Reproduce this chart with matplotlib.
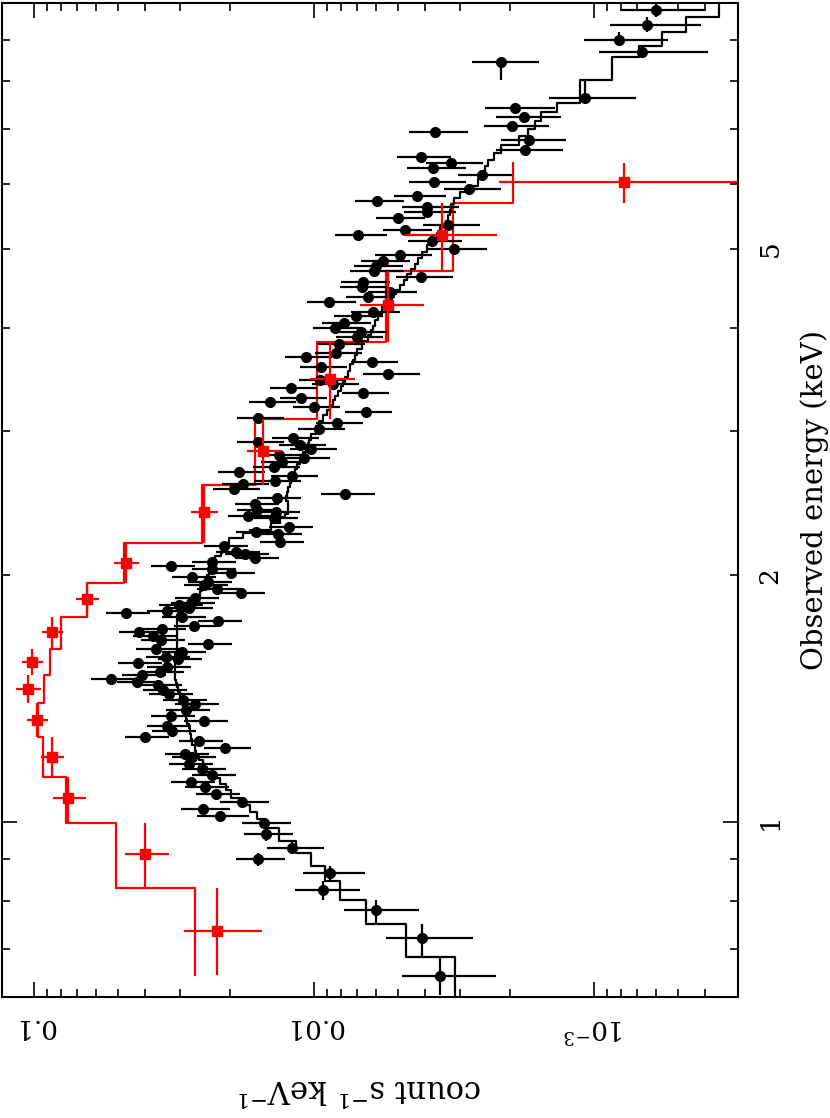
import numpy as np
import matplotlib
matplotlib.use("Agg")
import matplotlib.pyplot as plt
from matplotlib.ticker import FixedLocator, FixedFormatter, LogLocator, NullFormatter

plt.rcParams['font.family'] = ['DejaVu Serif']
plt.rcParams['mathtext.fontset'] = 'dejavuserif'

# black spectrum: energy (keV), rate (count/s/keV), relative error, model
black_energy = [9.778, 9.375, 8.988, 8.690, 8.449, 7.637, 7.425, 7.241, 7.060, 6.942,
                6.787, 6.599, 6.472, 6.363, 6.274, 6.152, 6.032, 5.915, 5.800, 5.719,
                5.623, 5.545, 5.452, 5.347, 5.271, 5.198, 5.111, 4.998, 4.915, 4.832,
                4.764, 4.698, 4.620, 4.555, 4.492, 4.429, 4.368, 4.307, 4.187, 4.140,
                4.059, 4.003, 3.959, 3.903, 3.827, 3.731, 3.690, 3.639, 3.588, 3.518,
                3.459, 3.420, 3.382, 3.335, 3.288, 3.252, 3.207, 3.162, 3.109, 3.066,
                3.014, 2.939, 2.907, 2.882, 2.850, 2.802, 2.778, 2.748, 2.710, 2.672,
                2.642, 2.605, 2.583, 2.547, 2.512, 2.484, 2.442, 2.401, 2.388, 2.361,
                2.348, 2.289, 2.257, 2.245, 2.195, 2.170, 2.134, 2.122, 2.099, 2.075,
                2.052, 2.035, 2.012, 1.990, 1.962, 1.945, 1.923, 1.902, 1.875, 1.849,
                1.839, 1.823, 1.808, 1.798, 1.778, 1.758, 1.733, 1.719, 1.704, 1.686,
                1.667, 1.648, 1.626, 1.612, 1.589, 1.580, 1.563, 1.545, 1.523, 1.511,
                1.494, 1.482, 1.469, 1.449, 1.433, 1.409, 1.393, 1.370, 1.346, 1.327,
                1.310, 1.291, 1.270, 1.255, 1.231, 1.210, 1.200, 1.177, 1.160, 1.141,
                1.119, 1.103, 1.082, 1.058, 1.037, 1.017, 0.9975, 0.9669, 0.9296, 0.9013,
                0.8665, 0.8262, 0.7811, 0.7220, 0.6490]

black_rate = [0.000600, 0.000647, 0.000814, 0.000674, 0.002148, 0.001077, 0.001915, 0.001778, 0.001962, 0.003697,
              0.001707, 0.001764, 0.004148, 0.003241, 0.003758, 0.002511, 0.003727, 0.002795, 0.004287, 0.005956,
              0.003948, 0.003948, 0.005012, 0.003322, 0.004731, 0.006964, 0.003789, 0.003162, 0.004930, 0.005669,
              0.006006, 0.006105, 0.004148, 0.006683, 0.006738, 0.005352, 0.006415, 0.008839, 0.006156, 0.007080,
              0.007812, 0.008414, 0.006796, 0.007021, 0.008139, 0.008345, 0.010676, 0.006207, 0.009443, 0.005441,
              0.009519, 0.008553, 0.012084, 0.006683, 0.011130, 0.014360, 0.009995, 0.006521, 0.015850, 0.008276,
              0.009597, 0.011883, 0.015850, 0.011220, 0.010248, 0.013336, 0.010856, 0.013014, 0.013895, 0.018528,
              0.011981, 0.013781, 0.017932, 0.019303, 0.007749, 0.013561, 0.016248, 0.015980, 0.013673, 0.017211,
              0.013895, 0.012277, 0.016112, 0.013450, 0.013230, 0.020958, 0.018996, 0.017641, 0.016248, 0.023136,
              0.032420, 0.023136, 0.019792, 0.027267, 0.023910, 0.024703, 0.022202, 0.018234, 0.026603, 0.027500,
              0.030341, 0.027943, 0.033497, 0.046931, 0.029609, 0.022020, 0.026822, 0.034901, 0.042155, 0.037580,
              0.035198, 0.023910, 0.036651, 0.029609, 0.033775, 0.030600, 0.042514, 0.033497, 0.035480, 0.041137,
              0.053095, 0.042866, 0.036069, 0.034615, 0.032941, 0.029366, 0.026603, 0.028649, 0.032420, 0.024703,
              0.033497, 0.032146, 0.040138, 0.025734, 0.020787, 0.028887, 0.027267, 0.027943, 0.025113, 0.023136,
              0.027500, 0.024501, 0.022386, 0.018080, 0.024907, 0.021660, 0.015085, 0.014841, 0.011981, 0.015850,
              0.008767, 0.009287, 0.006006, 0.004114, 0.003548]

black_rel_err = [0.33, 0.36, 0.33, 0.42, 0.27, 0.34, 0.28, 0.26, 0.26, 0.24,
                 0.26, 0.27, 0.22, 0.23, 0.24, 0.22, 0.23, 0.23, 0.21, 0.20,
                 0.23, 0.21, 0.20, 0.23, 0.20, 0.21, 0.22, 0.24, 0.23, 0.20,
                 0.20, 0.22, 0.23, 0.20, 0.20, 0.20, 0.20, 0.20, 0.20, 0.20,
                 0.20, 0.20, 0.20, 0.19, 0.19, 0.19, 0.19, 0.19, 0.19, 0.23,
                 0.19, 0.19, 0.19, 0.19, 0.19, 0.19, 0.19, 0.19, 0.19, 0.19,
                 0.19, 0.19, 0.19, 0.19, 0.19, 0.19, 0.19, 0.19, 0.19, 0.19,
                 0.19, 0.19, 0.19, 0.19, 0.22, 0.18, 0.18, 0.18, 0.18, 0.18,
                 0.18, 0.18, 0.18, 0.18, 0.18, 0.18, 0.18, 0.18, 0.18, 0.18,
                 0.18, 0.18, 0.18, 0.18, 0.18, 0.18, 0.18, 0.18, 0.18, 0.18,
                 0.18, 0.18, 0.18, 0.18, 0.18, 0.18, 0.18, 0.18, 0.18, 0.18,
                 0.18, 0.18, 0.18, 0.18, 0.18, 0.18, 0.18, 0.18, 0.18, 0.18,
                 0.18, 0.18, 0.18, 0.18, 0.18, 0.18, 0.18, 0.18, 0.18, 0.18,
                 0.18, 0.18, 0.18, 0.18, 0.19, 0.18, 0.18, 0.18, 0.18, 0.18,
                 0.18, 0.18, 0.18, 0.20, 0.20, 0.21, 0.20, 0.20, 0.23, 0.20,
                 0.25, 0.26, 0.30, 0.34, 0.37]

black_model = [0.000358, 0.000469, 0.000572, 0.000691, 0.000863, 0.001122, 0.001356, 0.001546, 0.001625, 0.001721,
               0.001853, 0.002148, 0.002276, 0.002391, 0.002450, 0.002491, 0.002595, 0.002772, 0.003010, 0.003162,
               0.003241, 0.003268, 0.003322, 0.003377, 0.003548, 0.003636, 0.003789, 0.003948, 0.004114, 0.004252,
               0.004357, 0.004504, 0.004656, 0.004773, 0.004930, 0.005092, 0.005265, 0.005352, 0.005716, 0.005907,
               0.006054, 0.006156, 0.006258, 0.006415, 0.006738, 0.007021, 0.007137, 0.007256, 0.007437, 0.007561,
               0.007749, 0.007878, 0.008008, 0.008209, 0.008414, 0.008553, 0.008767, 0.008986, 0.009287, 0.009597,
               0.009836, 0.010248, 0.010418, 0.010504, 0.010676, 0.010944, 0.011032, 0.011220, 0.011502, 0.011692,
               0.011981, 0.012080, 0.012180, 0.012380, 0.012483, 0.012586, 0.012380, 0.012380, 0.012380, 0.012691,
               0.013230, 0.014243, 0.016930, 0.017932, 0.020115, 0.020615, 0.021306, 0.021482, 0.022552, 0.022920,
               0.023520, 0.023620, 0.023810, 0.024110, 0.024510, 0.024710, 0.025120, 0.025530, 0.026380, 0.027720,
               0.028180, 0.029120, 0.030100, 0.030600, 0.030850, 0.030850, 0.030850, 0.030850, 0.030850, 0.030850,
               0.030850, 0.030850, 0.030850, 0.030850, 0.031360, 0.031360, 0.031360, 0.031360, 0.031360, 0.031360,
               0.031360, 0.031100, 0.030850, 0.030600, 0.030100, 0.029610, 0.029370, 0.029000, 0.028760, 0.028410,
               0.028060, 0.027720, 0.027490, 0.027160, 0.026710, 0.026380, 0.025740, 0.024920, 0.024110, 0.023330,
               0.021660, 0.020620, 0.019790, 0.017930, 0.016930, 0.016000, 0.015090, 0.013340, 0.011590, 0.010250,
               0.009128, 0.008074, 0.006518, 0.004689, 0.003135]

# red spectrum
red_energy = [0.7363, 0.9141, 1.070, 1.200, 1.331, 1.453, 1.567, 1.704, 1.870, 2.069,
              2.388, 2.834, 3.469, 4.271, 5.198, 6.032]
red_rate = [0.0222, 0.04014, 0.0756, 0.08624, 0.09757, 0.10506, 0.10165, 0.08624, 0.06468, 0.04693,
            0.0247, 0.01521, 0.008767, 0.005441, 0.00349, 0.000781]
red_sigma = [0.0069, 0.0072, 0.0102, 0.0081, 0.0083, 0.0105, 0.0086, 0.0073, 0.0061, 0.0047,
             0.0027, 0.0021, 0.0016, 0.0014, 0.00127, 0.0014]
red_edges = [0.6507, 0.8308, 0.9975, 1.1346, 1.270, 1.397, 1.511, 1.626, 1.778, 1.956,
             2.188, 2.576, 3.101, 3.848, 4.698, 5.687, 6.363]
red_model = [0.02662, 0.05095, 0.07686, 0.09287, 0.09677, 0.09209, 0.08767, 0.0801, 0.06468, 0.0477,
             0.02512, 0.01624, 0.009757, 0.005531, 0.003188, 0.001946]

energy_minor = [0.7, 0.8, 0.9, 2, 3, 4, 5, 6, 7, 8, 9]
energy_minor_labels = ['', '', '', '2', '', '', '5', '', '', '', '']

fig = plt.figure(figsize=(8.30, 11.18), dpi=100)
ax = fig.add_axes([2 / 830, 1 - 997 / 1118, 736 / 830, 994 / 1118])
ax.set_xscale('log')
ax.set_yscale('log')

# black bins from neighbouring energies
order = np.argsort(black_energy)
be = np.array(black_energy)[order]
bc = np.array(black_rate)[order]
bs = np.array(black_rel_err)[order] * bc
bm = np.array(black_model)[order]
mids = np.sqrt(be[:-1] * be[1:])
lo = np.concatenate([[be[0] ** 2 / mids[0]], mids])
hi = np.concatenate([mids, [be[-1] ** 2 / mids[-1]]])

# red model
re_ = np.array(red_edges)
ax.plot(np.repeat(red_model, 2), np.column_stack([re_[:-1], re_[1:]]).ravel(),
        color='red', lw=1.6, zorder=2)
# black model
ax.plot(np.repeat(bm, 2), np.column_stack([lo, hi]).ravel(), color='black', lw=1.6, zorder=3)

ax.errorbar(bc, be, xerr=[np.minimum(bs, bc - 1e-6), bs], yerr=[be - lo, hi - be],
            fmt='o', color='black', ms=7, elinewidth=1.6, capsize=0, zorder=4)

rc = np.array(red_rate)
rs = np.array(red_sigma)
rE = np.array(red_energy)
ax.errorbar(rc, rE, xerr=[np.minimum(rs, rc - 1e-6), rs], yerr=[rE - re_[:-1], re_[1:] - rE],
            fmt='s', color='red', ms=6.5, elinewidth=1.6, capsize=0, zorder=5)

ax.set_xlim(0.1301, 3.06e-4)
ax.set_ylim(0.6117, 9.972)

ax.xaxis.set_major_locator(FixedLocator([0.1, 0.01, 0.001]))
ax.xaxis.set_major_formatter(FixedFormatter(['0.1', '0.01', r'$10^{-3}$']))
ax.xaxis.set_minor_locator(LogLocator(base=10, subs=np.arange(2, 10), numticks=20))
ax.xaxis.set_minor_formatter(NullFormatter())
ax.yaxis.set_major_locator(FixedLocator([1.0]))
ax.yaxis.set_major_formatter(FixedFormatter(['1']))
ax.yaxis.set_minor_locator(FixedLocator(energy_minor))
ax.yaxis.set_minor_formatter(FixedFormatter(energy_minor_labels))

ax.tick_params(which='both', direction='in', top=True, bottom=True, left=True, right=True,
               width=1.2, color='black')
ax.tick_params(which='major', length=11)
ax.tick_params(which='minor', length=5.5)
ax.tick_params(axis='x', which='both', labelbottom=True, labeltop=False,
               labelrotation=180, labelsize=19, pad=12)
ax.tick_params(axis='y', which='both', labelleft=False, labelright=True,
               labelrotation=90, labelsize=19, pad=14)
for t in ax.yaxis.get_ticklabels(which='both'):
    t.set_va('center')
for s in ax.spines.values():
    s.set_linewidth(1.5)

fig.text(815 / 830, 1 - 500 / 1118, 'Observed energy (keV)', rotation=90,
         ha='center', va='center', fontsize=21)
fig.text(360 / 830, 1 - 1088 / 1118, r'count s$^{-1}$ keV$^{-1}$', rotation=180,
         ha='center', va='center', fontsize=22)

fig.savefig('out.png', dpi=100)
